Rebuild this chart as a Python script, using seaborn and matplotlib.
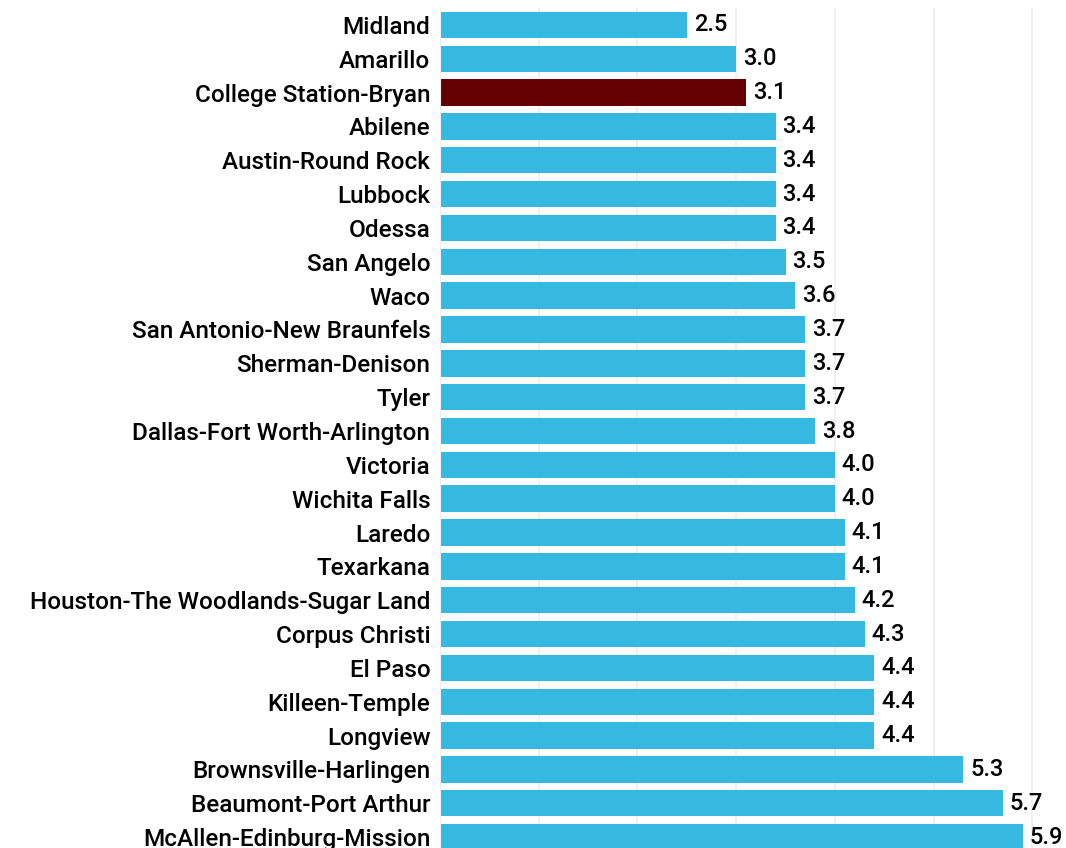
import matplotlib
matplotlib.use("Agg")
import matplotlib.pyplot as plt
import seaborn as sns
import pandas as pd

metros = ["Midland", "Amarillo", "College Station-Bryan", "Abilene", "Austin-Round Rock",
          "Lubbock", "Odessa", "San Angelo", "Waco", "San Antonio-New Braunfels",
          "Sherman-Denison", "Tyler", "Dallas-Fort Worth-Arlington", "Victoria",
          "Wichita Falls", "Laredo", "Texarkana", "Houston-The Woodlands-Sugar Land",
          "Corpus Christi", "El Paso", "Killeen-Temple", "Longview",
          "Brownsville-Harlingen", "Beaumont-Port Arthur", "McAllen-Edinburg-Mission"]
rates = [2.5, 3.0, 3.1, 3.4, 3.4, 3.4, 3.4, 3.5, 3.6, 3.7, 3.7, 3.7, 3.8, 4.0, 4.0,
         4.1, 4.1, 4.2, 4.3, 4.4, 4.4, 4.4, 5.3, 5.7, 5.9]
highlight = "College Station-Bryan"

df = pd.DataFrame({"metro": metros, "rate": rates})
palette = {m: ("#660000" if m == highlight else "#36B9E0") for m in metros}

sns.set_style("white")
plt.rcParams['font.family'] = ['Roboto', 'DejaVu Sans']

fig = plt.figure(figsize=(10.66, 8.48), dpi=100)
ax = fig.add_axes([440 / 1066, -6 / 848, 626 / 1066, 846 / 848])

sns.barplot(data=df, x="rate", y="metro", hue="metro", palette=palette,
            width=0.78, saturation=1, legend=False, linewidth=0, ax=ax, zorder=2)

for i, v in enumerate(rates):
    ax.text(v + 0.07, i, f"{v:.1f}", va="center", ha="left", fontsize=17,
            fontweight="medium", color="black")

ax.set_xlim(0, 6.34)
ax.set_ylim(24.5, -0.5)
ax.set_xticks([1, 2, 3, 4, 5, 6])
ax.xaxis.grid(True, color="#eeeeee", linewidth=1.2, zorder=0)
ax.tick_params(axis="x", length=0, labelbottom=False)
ax.tick_params(axis="y", length=0, labelsize=17.5, pad=7, labelcolor="black")
for lbl in ax.get_yticklabels():
    lbl.set_fontweight("medium")
ax.set_xlabel("")
ax.set_ylabel("")
for s in ["top", "right", "bottom"]:
    ax.spines[s].set_visible(False)
ax.spines["left"].set_color("#eeeeee")

fig.savefig("out.png", dpi=100)
